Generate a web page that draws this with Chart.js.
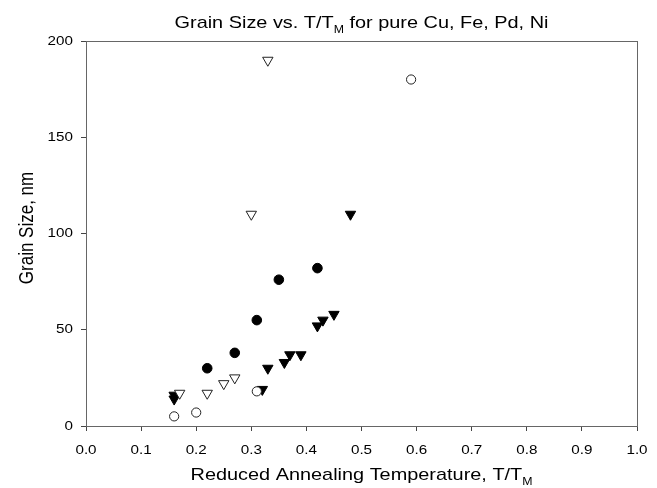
<!DOCTYPE html>
<html>
<head>
<meta charset="utf-8">
<script src="https://cdn.jsdelivr.net/npm/chart.js@4/dist/chart.umd.min.js"></script>
<style>
  html, body { margin: 0; padding: 0; background: #fff; }
  #wrap { width: 657px; height: 488px; }
</style>
</head>
<body>
<div id="wrap"><canvas id="grain"></canvas></div>
<script>
// reduced annealing temperature T/Tm and grain size (nm), one pair of arrays per marker
const solidCircleT = [0.22, 0.27, 0.31, 0.35, 0.42];
const solidCircleD = [30, 38, 55, 76, 82];

const openCircleT = [0.16, 0.20, 0.31, 0.59];
const openCircleD = [5, 7, 18, 180];

const solidTriT = [0.16, 0.16, 0.32, 0.33, 0.36, 0.37, 0.39, 0.42, 0.43, 0.45, 0.48];
const solidTriD = [14, 16, 19, 30, 33, 37, 37, 52, 55, 58, 110];

const openTriT = [0.17, 0.22, 0.25, 0.27, 0.30, 0.33];
const openTriD = [17, 17, 22, 25, 110, 190];

const xTicks = [0, 0.1, 0.2, 0.3, 0.4, 0.5, 0.6, 0.7, 0.8, 0.9, 1.0];
const yTicks = [0, 50, 100, 150, 200];

const FONT = '"Liberation Sans", Arial, sans-serif';
const STRETCH = 1.17; // the original picture is a bit wider than tall

function pts(xs, ys){
  return xs.map((x, i) => ({x: x, y: ys[i]}));
}

// text with an optional subscript part, centred on 0 in the current transform
function drawParts(ctx, parts, size){
  let total = 0;
  parts.forEach(p => {
    ctx.font = (p.sub ? size * 0.62 : size) + 'px ' + FONT;
    p.w = ctx.measureText(p.t).width;
    total += p.w;
  });
  let x = -total / 2;
  ctx.textAlign = 'left';
  ctx.textBaseline = 'alphabetic';
  ctx.fillStyle = '#000';
  parts.forEach(p => {
    ctx.font = (p.sub ? size * 0.62 : size) + 'px ' + FONT;
    ctx.fillText(p.t, x, p.sub ? size * 0.28 : 0);
    x += p.w;
  });
}

function stretchedText(ctx, txt, x, y, align){
  ctx.save();
  ctx.translate(x, y);
  ctx.scale(STRETCH, 1);
  ctx.textAlign = align;
  ctx.fillText(txt, 0, 0);
  ctx.restore();
}

const framePlugin = {
  id: 'frame',
  afterDraw(chart){
    const ctx = chart.ctx;
    const a = chart.chartArea;
    const xs = chart.scales.x, ys = chart.scales.y;
    ctx.save();
    ctx.strokeStyle = '#666';
    ctx.lineWidth = 1;
    ctx.strokeRect(a.left + 0.5, a.top + 0.5, a.right - a.left, a.bottom - a.top);

    // tick labels
    ctx.fillStyle = '#000';
    ctx.font = '13px ' + FONT;
    ctx.textBaseline = 'alphabetic';
    xTicks.forEach(v => stretchedText(ctx, v.toFixed(1), xs.getPixelForValue(v), 454, 'center'));
    ctx.textBaseline = 'middle';
    yTicks.forEach(v => stretchedText(ctx, String(v), 73, ys.getPixelForValue(v), 'right'));

    const cx = (a.left + a.right) / 2;
    ctx.save();
    ctx.translate(cx, 28);
    ctx.scale(STRETCH, 1);
    drawParts(ctx, [{t: 'Grain Size vs. T/T'}, {t: 'M', sub: true}, {t: ' for pure Cu, Fe, Pd, Ni'}], 17);
    ctx.restore();

    ctx.save();
    ctx.translate(cx, 480);
    ctx.scale(STRETCH, 1);
    drawParts(ctx, [{t: 'Reduced Annealing Temperature, T/T'}, {t: 'M', sub: true}], 17);
    ctx.restore();

    ctx.save();
    ctx.translate(33, 228);
    ctx.scale(STRETCH, 1);
    ctx.rotate(-Math.PI / 2);
    drawParts(ctx, [{t: 'Grain Size, nm'}], 17);
    ctx.restore();
    ctx.restore();
  }
};

new Chart(document.getElementById('grain'), {
  type: 'scatter',
  data: {
    datasets: [
      {
        data: pts(openCircleT, openCircleD),
        pointStyle: 'circle',
        pointRadius: 4.6,
        backgroundColor: '#fff',
        borderColor: '#222',
        borderWidth: 1
      },
      {
        data: pts(openTriT, openTriD),
        pointStyle: 'triangle',
        rotation: 180,
        pointRadius: 6,
        backgroundColor: '#fff',
        borderColor: '#222',
        borderWidth: 1
      },
      {
        data: pts(solidCircleT, solidCircleD),
        pointStyle: 'circle',
        pointRadius: 4.8,
        backgroundColor: '#000',
        borderColor: '#000',
        borderWidth: 1
      },
      {
        data: pts(solidTriT, solidTriD),
        pointStyle: 'triangle',
        rotation: 180,
        pointRadius: 6,
        backgroundColor: '#000',
        borderColor: '#000',
        borderWidth: 1
      }
    ]
  },
  plugins: [framePlugin],
  options: {
    animation: false,
    responsive: true,
    maintainAspectRatio: false,
    layout: { padding: { top: 41, right: 20, left: 0, bottom: 0 } },
    plugins: {
      legend: { display: false },
      tooltip: { enabled: false }
    },
    scales: {
      x: {
        type: 'linear',
        min: 0,
        max: 1,
        afterFit: function(scale){ scale.height = 62; },
        afterBuildTicks: function(scale){ scale.ticks = xTicks.map(v => ({value: v})); },
        grid: { drawOnChartArea: false, drawTicks: true, tickLength: 5, color: '#444' },
        border: { color: '#666' },
        ticks: { display: false }
      },
      y: {
        type: 'linear',
        min: 0,
        max: 200,
        afterFit: function(scale){ scale.width = 86; },
        afterBuildTicks: function(scale){ scale.ticks = yTicks.map(v => ({value: v})); },
        grid: { drawOnChartArea: false, drawTicks: true, tickLength: 5, color: '#444' },
        border: { color: '#666' },
        ticks: { display: false }
      }
    }
  }
});
</script>
</body>
</html>
